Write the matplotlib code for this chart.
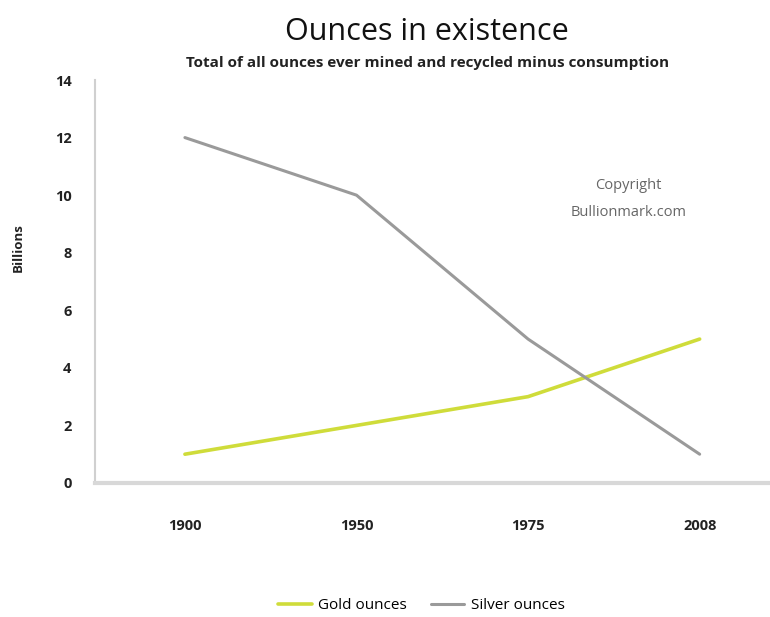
import matplotlib
matplotlib.use('Agg')
import matplotlib.pyplot as plt

# data
years = ['1900', '1950', '1975', '2008']
gold = [1, 2, 3, 5]
silver = [12, 10, 5, 1]
yticks = [0, 2, 4, 6, 8, 10, 12, 14]

plt.rcParams['font.family'] = ['Open Sans', 'DejaVu Sans']

fig = plt.figure(figsize=(7.7, 6.17), dpi=100)
ax = fig.add_axes([0.1234, 0.2172, 1.0 - 0.1234, 0.6531])

x = list(range(len(years)))
ax.plot(x, gold, color='#cfdc3a', linewidth=2.6, label='Gold ounces', solid_capstyle='round')
ax.plot(x, silver, color='#9a9a9a', linewidth=2.2, label='Silver ounces', solid_capstyle='round')

ax.set_xlim(-0.524, 3.41)
ax.set_ylim(0, 14)
ax.set_xticks(x)
ax.set_xticklabels(years, fontsize=10.5, fontweight='bold', color='#222222')
ax.set_yticks(yticks)
ax.set_yticklabels([str(v) for v in yticks], fontsize=10.5, fontweight='bold', color='#222222')
ax.tick_params(axis='x', length=0, pad=26)
ax.tick_params(axis='y', length=0, pad=17)

for s in ['top', 'right']:
    ax.spines[s].set_visible(False)
ax.spines['left'].set_color('#d0d0d0')
ax.spines['left'].set_linewidth(1.5)
ax.spines['bottom'].set_color('#d8d8d8')
ax.spines['bottom'].set_linewidth(3)

ax.set_ylabel('Billions', fontsize=9.5, fontweight='bold', color='#222222')
ax.yaxis.set_label_coords(-0.104, 0.583)

fig.text(0.555, 0.948, 'Ounces in existence', ha='center', va='center', fontsize=22, color='#111111')
fig.text(0.555, 0.898, 'Total of all ounces ever mined and recycled minus consumption',
         ha='center', va='center', fontsize=11, fontweight='bold', color='#222222')

fig.text(0.816, 0.699, 'Copyright', ha='center', va='center', fontsize=10.5, color='#666666')
fig.text(0.816, 0.656, 'Bullionmark.com', ha='center', va='center', fontsize=10.5, color='#666666')

fig.legend(loc='center', bbox_to_anchor=(0.547, 0.018), ncol=2, frameon=False,
           fontsize=11, handlelength=2.2, columnspacing=1.6, handletextpad=0.4)

fig.savefig('out.png', dpi=100)
